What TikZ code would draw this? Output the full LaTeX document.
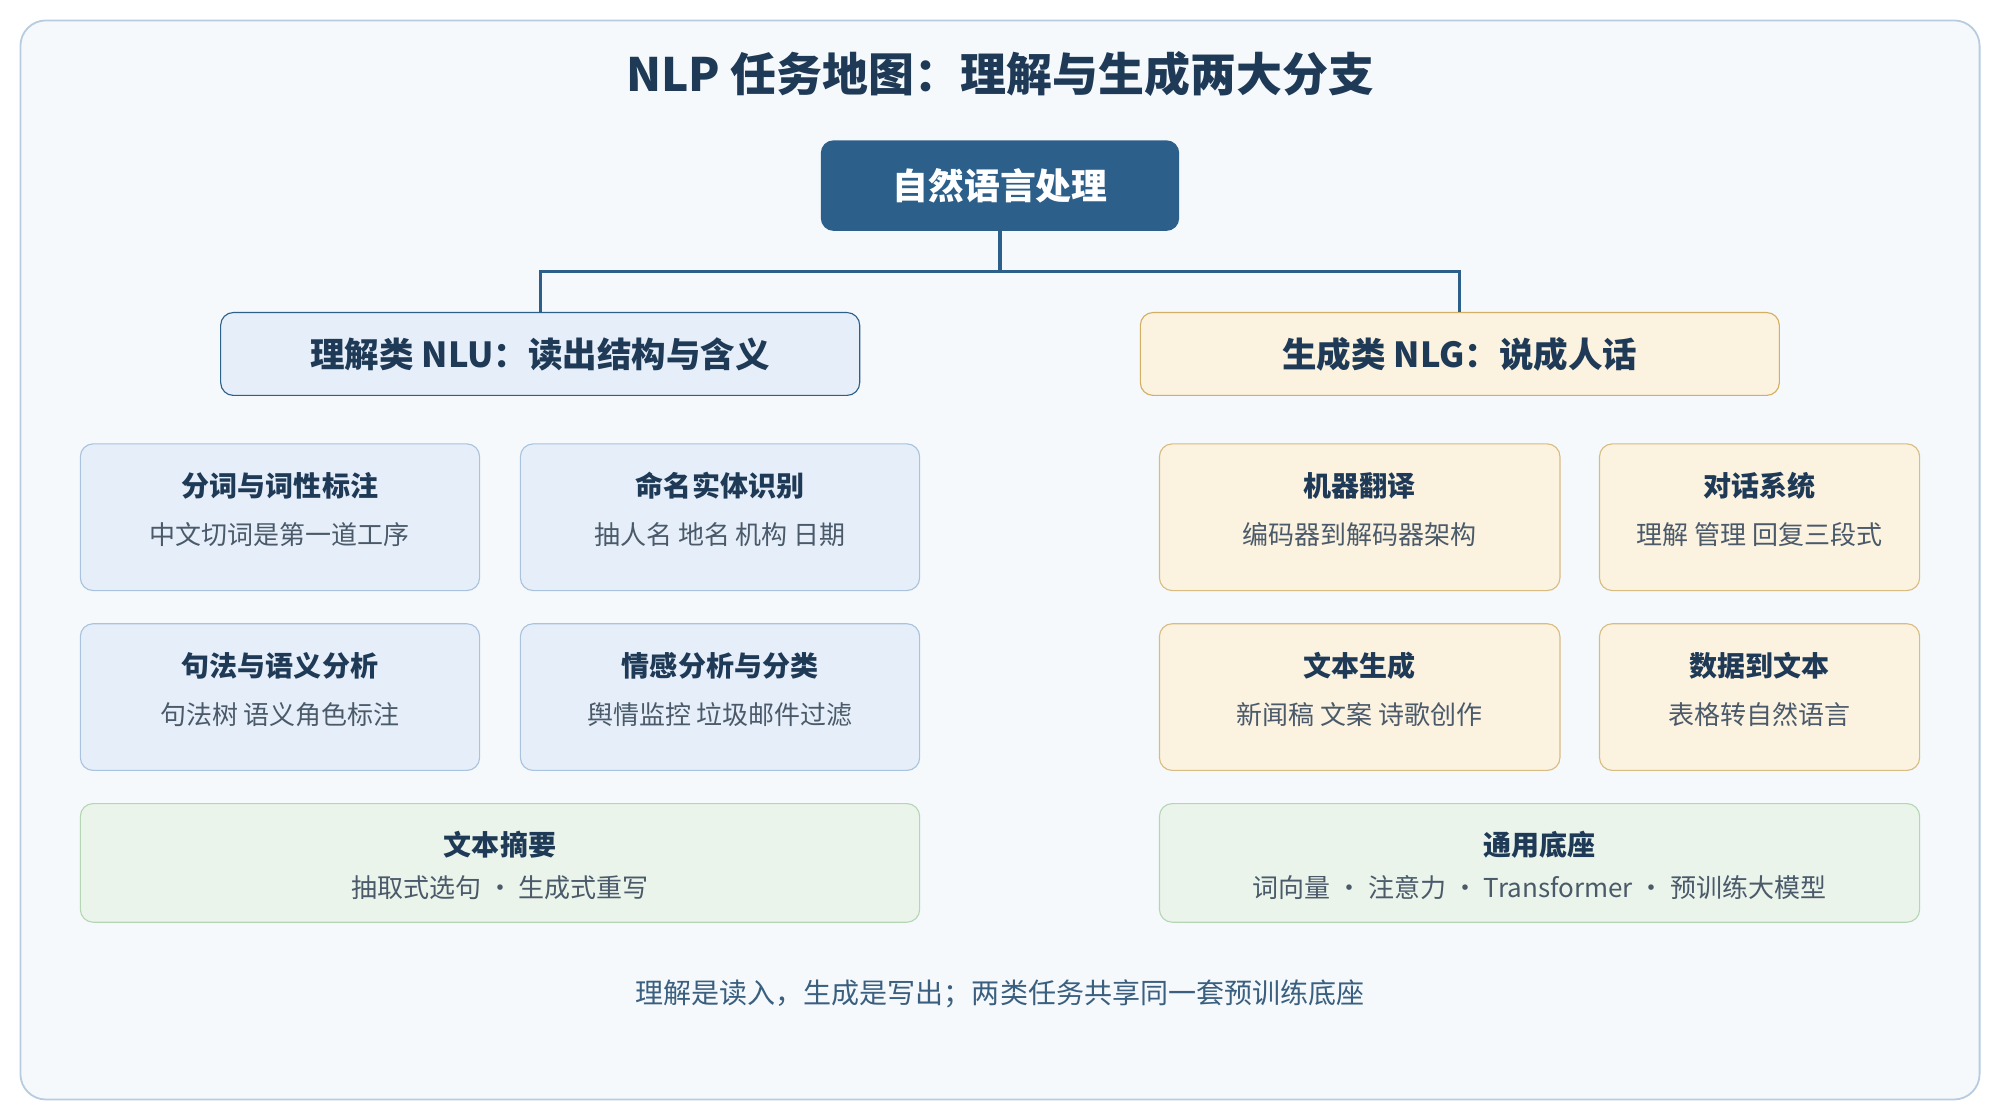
\documentclass[tikz,border=0pt]{standalone}
\usepackage{fontspec}
\setmainfont{Noto Sans CJK SC}
\usetikzlibrary{positioning}
\definecolor{navy}{HTML}{2C5F8A}
\definecolor{ink}{HTML}{1F3A56}
\definecolor{grey}{HTML}{4A5A6A}
\definecolor{pagefill}{HTML}{F5F9FC}
\definecolor{pageline}{HTML}{B8CCE0}
\definecolor{bluefill}{HTML}{E6EFF9}
\definecolor{blueline}{HTML}{A9C2DD}
\definecolor{sandfill}{HTML}{FBF2E0}
\definecolor{sandline}{HTML}{D9BC82}
\definecolor{sanddark}{HTML}{D4AE62}
\definecolor{greenfill}{HTML}{EAF4EA}
\definecolor{greenline}{HTML}{B5D6B5}
\definecolor{notecol}{HTML}{3A5F7F}
\tikzset{
  box/.style={draw, rounded corners=2mm, line width=0.5pt},
  nlu/.style={box, fill=bluefill, draw=blueline},
  nlg/.style={box, fill=sandfill, draw=sandline},
  base/.style={box, fill=greenfill, draw=greenline},
  head/.style={font=\bfseries\fontsize{12.5}{14}\selectfont, text=ink},
  sub/.style={font=\fontsize{11.6}{13}\selectfont, text=grey},
  link/.style={draw=navy, line width=1.4pt}
}
% card: name, x1, y1, x2, y2, style, title, subtitle
\newcommand{\card}[8]{
  \draw[#6] (#2,#3) rectangle (#4,#5);
  \node[head] (#1) at ({(#2+#4)/2},#3+33) {#7};
  \node[sub] (#1s) at ({(#2+#4)/2},#3+71) {#8};
}
\begin{document}
\begin{tikzpicture}[x=0.2mm, y=-0.2mm]
\useasboundingbox (0,0) rectangle (1568,878);
\draw[rounded corners=4mm, fill=pagefill, draw=pageline, line width=0.8pt] (16,16) rectangle (1552,862);

\node[font=\bfseries\fontsize{20.5}{24}\selectfont, text=ink] (title) at (784,58) {NLP 任务地图：理解与生成两大分支};

\node[fill=navy, rounded corners=2mm, minimum width=281*0.2mm, minimum height=71*0.2mm, text=white, font=\bfseries\fontsize{16}{18}\selectfont] (root) at (784,145.5) {自然语言处理};

\node[nlu, draw=navy, minimum width=501*0.2mm, minimum height=65*0.2mm, font=\bfseries\fontsize{15.4}{18}\selectfont, text=ink] (nlu) at (423.5,277.5) {理解类 NLU：读出结构与含义};
\node[nlg, draw=sanddark, minimum width=501*0.2mm, minimum height=65*0.2mm, font=\bfseries\fontsize{15.4}{18}\selectfont, text=ink] (nlg) at (1144.5,277.5) {生成类 NLG：说成人话};

\coordinate (fork) at (784,213);
\draw[link] (root.south) -- (fork) -| (nlu.north);
\draw[link] (fork) -| (nlg.north);

% NLU side
\card{seg}{63}{348}{376}{463}{nlu}{分词与词性标注}{中文切词是第一道工序}
\card{ner}{408}{348}{721}{463}{nlu}{命名实体识别}{抽人名 地名 机构 日期}
\card{syn}{63}{489}{376}{604}{nlu}{句法与语义分析}{句法树 语义角色标注}
\card{sent}{408}{489}{721}{604}{nlu}{情感分析与分类}{舆情监控 垃圾邮件过滤}
\draw[base] (63,630) rectangle (721,723);
\node[head] (summ) at (392,662) {文本摘要};
\node[sub] (summs) at (392,696) {抽取式选句 · 生成式重写};

% NLG side
\card{mt}{909}{348}{1223}{463}{nlg}{机器翻译}{编码器到解码器架构}
\card{dia}{1254}{348}{1505}{463}{nlg}{对话系统}{理解 管理 回复三段式}
\card{gen}{909}{489}{1223}{604}{nlg}{文本生成}{新闻稿 文案 诗歌创作}
\card{d2t}{1254}{489}{1505}{604}{nlg}{数据到文本}{表格转自然语言}
\draw[base] (909,630) rectangle (1505,723);
\node[head] (found) at (1207,662) {通用底座};
\node[sub] (founds) at (1207,696) {词向量 · 注意力 · Transformer · 预训练大模型};

\node[font=\fontsize{12.5}{14}\selectfont, text=notecol] (note) at (784,779) {理解是读入，生成是写出；两类任务共享同一套预训练底座};
\end{tikzpicture}
\end{document}
